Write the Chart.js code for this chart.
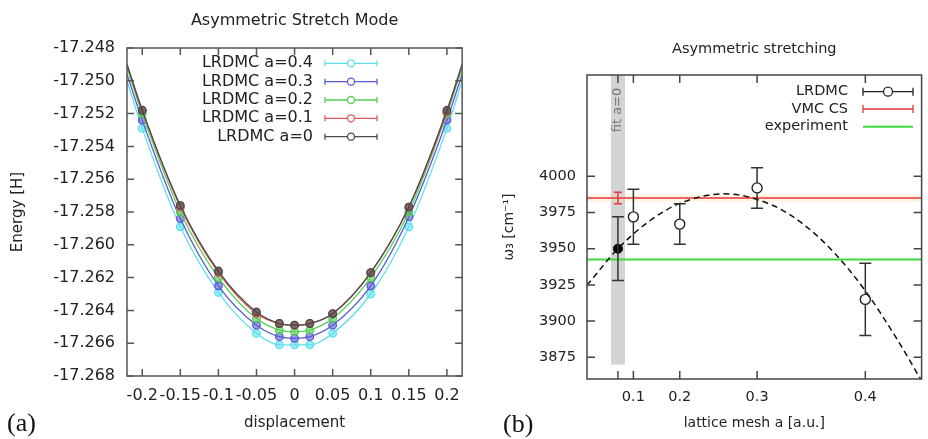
<!DOCTYPE html>
<html>
<head>
<meta charset="utf-8">
<script src="https://cdn.jsdelivr.net/npm/chart.js@4/dist/chart.umd.min.js"></script>
<style>
  body { margin: 0; background: #fff; }
  #stretchChart { position: absolute; left: 0; top: 0; }
  #latticeChart { position: absolute; left: 470px; top: 0; }
</style>
</head>
<body>
<canvas id="stretchChart" width="470" height="439"></canvas>
<canvas id="latticeChart" width="458" height="439"></canvas>
<script>
// ---- panel (a): energy vs displacement ----
var displacement = [-0.2, -0.15, -0.1, -0.05, -0.02, 0, 0.02, 0.05, 0.1, 0.15, 0.2];
var energyA0  = [-17.2518, -17.2576, -17.2616, -17.2641, -17.2648, -17.2649, -17.2648, -17.2642, -17.2617, -17.2577, -17.2518];
var energyA01 = [-17.2518, -17.2577, -17.2617, -17.2642, -17.2648, -17.2649, -17.2648, -17.2642, -17.2617, -17.2577, -17.2519];
var energyA02 = [-17.2520, -17.2580, -17.2620, -17.2645, -17.2652, -17.2653, -17.2652, -17.2645, -17.2620, -17.2580, -17.2520];
var energyA03 = [-17.2524, -17.2584, -17.2625, -17.2649, -17.2656, -17.2657, -17.2656, -17.2649, -17.2625, -17.2583, -17.2524];
var energyA04 = [-17.2529, -17.2589, -17.2629, -17.2654, -17.2661, -17.2661, -17.2661, -17.2654, -17.2630, -17.2589, -17.2529];
// fitted curves where they leave the plot frame
var fitEdgeX = [-0.22, 0.22];
var edgeA0  = [-17.2490, -17.2490];
var edgeA01 = [-17.2490, -17.2490];
var edgeA02 = [-17.2492, -17.2492];
var edgeA03 = [-17.2496, -17.2496];
var edgeA04 = [-17.2500, -17.2500];
var energyTicks = [-17.268, -17.266, -17.264, -17.262, -17.260, -17.258, -17.256, -17.254, -17.252, -17.250, -17.248];
var displacementTicks = [-0.2, -0.15, -0.1, -0.05, 0, 0.05, 0.1, 0.15, 0.2];

// ---- panel (b): omega_3 vs lattice mesh (x axis is linear in a^2) ----
var latticeA = [0.1, 0.2, 0.3, 0.4];
var omegaLRDMC = [3972, 3967, 3992, 3915];
var errLRDMC = [19, 14, 14, 25];
var omegaFitA0 = 3950;
var errFitA0 = 22;
var omegaVMC = 3985;
var errVMC = 4;
var omegaExperiment = 3942.5;
var fitCurveA2 = [-0.02, 0, 0.02, 0.04, 0.0687, 0.10, 0.12, 0.14, 0.16, 0.18, 0.196];
var fitCurveOmega = [3924.7, 3950.0, 3968.8, 3981.3, 3987.9, 3980.0, 3966.8, 3947.1, 3920.9, 3888.4, 3859.5];
var latticeTickA = [0, 0.1, 0.2, 0.3, 0.4];
var latticeTickLabels = ['', '0.1', '0.2', '0.3', '0.4'];
var omegaTicks = [3875, 3900, 3925, 3950, 3975, 4000];

var FONT = "'DejaVu Sans', sans-serif";
var TEXT = '#222';

// gnuplot-like border with inward ticks on all four sides
var framePlugin = {
    id: 'frame',
    afterDatasetsDraw: function(chart, args, opts) {
        var a = chart.chartArea;
        var ctx = chart.ctx;
        var len = opts.tickLen || 7;
        ctx.save();
        ctx.strokeStyle = opts.color || '#444';
        ctx.lineWidth = 1.5;
        ctx.strokeRect(a.left, a.top, a.right - a.left, a.bottom - a.top);
        ctx.beginPath();
        chart.scales.x.ticks.forEach(function(t) {
            var px = chart.scales.x.getPixelForValue(t.value);
            ctx.moveTo(px, a.bottom); ctx.lineTo(px, a.bottom - len);
            ctx.moveTo(px, a.top); ctx.lineTo(px, a.top + len);
        });
        chart.scales.y.ticks.forEach(function(t) {
            var py = chart.scales.y.getPixelForValue(t.value);
            ctx.moveTo(a.left, py); ctx.lineTo(a.left + len, py);
            ctx.moveTo(a.right, py); ctx.lineTo(a.right - len, py);
        });
        ctx.stroke();
        ctx.restore();
    }
};

// vertical error bars from dataset.errors
var errorBarPlugin = {
    id: 'errorBars',
    afterDatasetsDraw: function(chart) {
        var ctx = chart.ctx;
        var yScale = chart.scales.y;
        chart.data.datasets.forEach(function(ds, i) {
            if (!ds.errors) return;
            var meta = chart.getDatasetMeta(i);
            meta.data.forEach(function(pt, j) {
                var v = ds.data[j].y;
                var top = yScale.getPixelForValue(v + ds.errors[j]);
                var bottom = yScale.getPixelForValue(v - ds.errors[j]);
                var cap = ds.capWidth || 6;
                var gap = ds.hollow ? (ds.pointRadius || 0) : 0;
                ctx.save();
                ctx.strokeStyle = ds.errorColor;
                ctx.lineWidth = 1.5;
                ctx.beginPath();
                ctx.moveTo(pt.x, top); ctx.lineTo(pt.x, pt.y - gap);
                ctx.moveTo(pt.x, pt.y + gap); ctx.lineTo(pt.x, bottom);
                ctx.moveTo(pt.x - cap, top); ctx.lineTo(pt.x + cap, top);
                ctx.moveTo(pt.x - cap, bottom); ctx.lineTo(pt.x + cap, bottom);
                ctx.stroke();
                ctx.restore();
            });
        });
    }
};

// key with text on the left and the line sample on the right
var sampleLegendPlugin = {
    id: 'sampleLegend',
    afterDraw: function(chart, args, opts) {
        var ctx = chart.ctx;
        ctx.save();
        ctx.font = opts.fontSize + 'px ' + FONT;
        ctx.textAlign = 'right';
        ctx.textBaseline = 'middle';
        opts.entries.forEach(function(e, i) {
            var y = opts.rowY[i];
            ctx.fillStyle = TEXT;
            ctx.fillText(e.label, opts.textRight, y);
            ctx.strokeStyle = e.color;
            ctx.lineWidth = e.lineWidth || 1.3;
            ctx.beginPath();
            ctx.moveTo(opts.sampleLeft, y); ctx.lineTo(opts.sampleRight, y);
            if (e.caps) {
                ctx.moveTo(opts.sampleLeft, y - opts.capHeight); ctx.lineTo(opts.sampleLeft, y + opts.capHeight);
                ctx.moveTo(opts.sampleRight, y - opts.capHeight); ctx.lineTo(opts.sampleRight, y + opts.capHeight);
            }
            ctx.stroke();
            if (e.marker) {
                var cx = (opts.sampleLeft + opts.sampleRight) / 2;
                ctx.beginPath();
                ctx.arc(cx, y, opts.markerRadius, 0, Math.PI * 2);
                ctx.fillStyle = '#fff';
                ctx.fill();
                ctx.stroke();
            }
        });
        ctx.restore();
    }
};

// panel letter (a)/(b)
var panelLabelPlugin = {
    id: 'panelLabel',
    afterDraw: function(chart, args, opts) {
        var ctx = chart.ctx;
        ctx.save();
        ctx.font = "26px 'Liberation Serif', serif";
        ctx.fillStyle = '#111';
        ctx.textBaseline = 'middle';
        ctx.fillText(opts.text, opts.x, opts.y);
        ctx.restore();
    }
};

// grey band marking the a=0 extrapolation
var fitBandPlugin = {
    id: 'fitBand',
    beforeDatasetsDraw: function(chart, args, opts) {
        var ctx = chart.ctx;
        var x = chart.scales.x, y = chart.scales.y;
        var left = x.getPixelForValue(opts.from);
        var right = x.getPixelForValue(opts.to);
        var top = chart.chartArea.top;
        var bottom = y.getPixelForValue(opts.bottom);
        ctx.save();
        ctx.fillStyle = '#d4d4d4';
        ctx.fillRect(left, top, right - left, bottom - top);
        // faint halo around the VMC line
        var vTop = y.getPixelForValue(opts.haloValue + opts.haloHalf);
        var vBottom = y.getPixelForValue(opts.haloValue - opts.haloHalf);
        ctx.fillStyle = 'rgba(255, 214, 160, 0.3)';
        ctx.fillRect(chart.chartArea.left, vTop, chart.chartArea.right - chart.chartArea.left, vBottom - vTop);
        ctx.translate((left + right) / 2, top + 35);
        ctx.rotate(-Math.PI / 2);
        ctx.font = '13px ' + FONT;
        ctx.fillStyle = '#777';
        ctx.textAlign = 'center';
        ctx.textBaseline = 'middle';
        ctx.fillText(opts.text, 0, 0);
        ctx.restore();
    }
};

function toPoints(xs, ys) {
    return xs.map(function(x, i) { return { x: x, y: ys[i] }; });
}

function fadeColor(hex, alpha) {
    var r = parseInt(hex.slice(1, 3), 16), g = parseInt(hex.slice(3, 5), 16), b = parseInt(hex.slice(5, 7), 16);
    return 'rgba(' + r + ',' + g + ',' + b + ',' + alpha + ')';
}

// ---------- chart (a) ----------
var stretchSeries = [
    { label: 'LRDMC a=0',   values: energyA0,  edge: edgeA0,  color: '#4a4a4a' },
    { label: 'LRDMC a=0.1', values: energyA01, edge: edgeA01, color: '#e05a5a' },
    { label: 'LRDMC a=0.2', values: energyA02, edge: edgeA02, color: '#55d055' },
    { label: 'LRDMC a=0.3', values: energyA03, edge: edgeA03, color: '#5a5ad6' },
    { label: 'LRDMC a=0.4', values: energyA04, edge: edgeA04, color: '#5fe0ee' }
];

var stretchDatasets = stretchSeries.map(function(s) {
    var pts = [{ x: fitEdgeX[0], y: s.edge[0] }].concat(toPoints(displacement, s.values), [{ x: fitEdgeX[1], y: s.edge[1] }]);
    var last = pts.length - 1;
    return {
        label: s.label,
        data: pts,
        borderColor: s.color,
        borderWidth: 1.3,
        cubicInterpolationMode: 'monotone',
        pointRadius: function(c) { return (c.dataIndex === 0 || c.dataIndex === last) ? 0 : 3.8; },
        pointBorderColor: s.color,
        pointBackgroundColor: fadeColor(s.color, 0.6),
        pointBorderWidth: 1.3
    };
});

var ctxStretch = document.getElementById('stretchChart');
new Chart(ctxStretch, {
    type: 'line',
    data: { datasets: stretchDatasets },
    plugins: [framePlugin, sampleLegendPlugin, panelLabelPlugin],
    options: {
        responsive: false,
        animation: false,
        layout: { padding: 0 },
        scales: {
            x: {
                type: 'linear',
                min: -0.22,
                max: 0.22,
                afterBuildTicks: function(scale) {
                    scale.ticks = displacementTicks.map(function(v) { return { value: v }; });
                },
                afterFit: function(scale) { scale.height = 63; },
                grid: { display: false, drawTicks: false },
                border: { display: false },
                ticks: {
                    autoSkip: false,
                    maxRotation: 0,
                    padding: 10,
                    color: TEXT,
                    font: { family: FONT, size: 16 },
                    callback: function(v) { return String(Math.round(v * 100) / 100); }
                },
                title: {
                    display: true,
                    text: 'displacement',
                    color: TEXT,
                    font: { family: FONT, size: 15 },
                    padding: { top: 0, bottom: 7 }
                }
            },
            y: {
                min: -17.268,
                max: -17.248,
                afterBuildTicks: function(scale) {
                    scale.ticks = energyTicks.map(function(v) { return { value: v }; });
                },
                afterFit: function(scale) { scale.width = 127; },
                grid: { display: false, drawTicks: false },
                border: { display: false },
                ticks: {
                    padding: 12,
                    color: TEXT,
                    font: { family: FONT, size: 16 },
                    callback: function(v) { return v.toFixed(3); }
                },
                title: {
                    display: true,
                    text: 'Energy [H]',
                    color: TEXT,
                    font: { family: FONT, size: 15 },
                    padding: { top: 9, bottom: 0 }
                }
            }
        },
        plugins: {
            legend: { display: false },
            tooltip: { enabled: false },
            title: {
                display: true,
                fullSize: false,
                text: 'Asymmetric Stretch Mode',
                color: TEXT,
                font: { family: FONT, size: 16, weight: 'normal' },
                padding: { top: 11.4, bottom: 17.4 }
            },
            frame: { color: '#555', tickLen: 7 },
            sampleLegend: {
                entries: stretchSeries.slice().reverse().map(function(s) {
                    return { label: s.label, color: s.color, caps: true, marker: true };
                }),
                fontSize: 16,
                textRight: 313,
                sampleLeft: 325,
                sampleRight: 377,
                capHeight: 3,
                markerRadius: 3.5,
                rowY: [63.3, 81.7, 100, 118.3, 136.7]
            },
            panelLabel: { text: '(a)', x: 7, y: 424 }
        }
    }
});

// ---------- chart (b) ----------
var aSquared = latticeA.map(function(a) { return a * a; });
var xMinB = -0.02, xMaxB = 0.1964;

var ctxLattice = document.getElementById('latticeChart');
new Chart(ctxLattice, {
    type: 'line',
    data: {
        datasets: [
            {
                label: 'LRDMC',
                data: toPoints(aSquared, omegaLRDMC),
                showLine: false,
                pointRadius: 5,
                pointBorderColor: '#222',
                pointBackgroundColor: 'rgba(0,0,0,0)',
                pointBorderWidth: 1.4,
                errors: errLRDMC,
                errorColor: '#333',
                capWidth: 6,
                hollow: true
            },
            {
                label: 'fit a=0',
                data: [{ x: 0, y: omegaFitA0 }],
                showLine: false,
                pointRadius: 4.5,
                pointBorderColor: '#000',
                pointBackgroundColor: '#000',
                errors: [errFitA0],
                errorColor: '#333',
                capWidth: 6
            },
            {
                label: 'VMC CS error',
                data: [{ x: 0, y: omegaVMC }],
                showLine: false,
                pointRadius: 0,
                errors: [errVMC],
                errorColor: '#e8343c',
                capWidth: 4
            },
            {
                label: 'fit',
                data: toPoints(fitCurveA2, fitCurveOmega),
                borderColor: '#111',
                borderWidth: 1.5,
                borderDash: [6, 4],
                pointRadius: 0,
                cubicInterpolationMode: 'monotone'
            },
            {
                label: 'VMC CS',
                data: [{ x: xMinB, y: omegaVMC }, { x: xMaxB, y: omegaVMC }],
                borderColor: '#e8343c',
                borderWidth: 1.5,
                pointRadius: 0
            },
            {
                label: 'experiment',
                data: [{ x: xMinB, y: omegaExperiment }, { x: xMaxB, y: omegaExperiment }],
                borderColor: '#3fd93f',
                borderWidth: 2,
                pointRadius: 0
            }
        ]
    },
    plugins: [fitBandPlugin, framePlugin, errorBarPlugin, sampleLegendPlugin, panelLabelPlugin],
    options: {
        responsive: false,
        animation: false,
        layout: { padding: 0 },
        scales: {
            x: {
                type: 'linear',
                min: xMinB,
                max: xMaxB,
                afterBuildTicks: function(scale) {
                    scale.ticks = latticeTickA.map(function(a) { return { value: a * a }; });
                },
                afterFit: function(scale) { scale.height = 60; },
                grid: { display: false, drawTicks: false },
                border: { display: false },
                ticks: {
                    autoSkip: false,
                    maxRotation: 0,
                    padding: 10,
                    color: TEXT,
                    font: { family: FONT, size: 14.5 },
                    callback: function(v, i) { return latticeTickLabels[i]; }
                },
                title: {
                    display: true,
                    text: 'lattice mesh a [a.u.]',
                    color: TEXT,
                    font: { family: FONT, size: 14 },
                    padding: { top: 0, bottom: 7.6 }
                }
            },
            y: {
                min: 3860,
                max: 4070,
                afterBuildTicks: function(scale) {
                    scale.ticks = omegaTicks.map(function(v) { return { value: v }; });
                },
                afterFit: function(scale) { scale.width = 117; },
                grid: { display: false, drawTicks: false },
                border: { display: false },
                ticks: {
                    padding: 11,
                    color: TEXT,
                    font: { family: FONT, size: 14.5 },
                    callback: function(v) { return String(v); }
                },
                title: {
                    display: true,
                    text: 'ω₃ [cm⁻¹]',
                    color: TEXT,
                    font: { family: FONT, size: 14 },
                    padding: { top: 30.6, bottom: 0 }
                }
            }
        },
        plugins: {
            legend: { display: false },
            tooltip: { enabled: false },
            title: {
                display: true,
                fullSize: false,
                text: 'Asymmetric stretching',
                color: TEXT,
                font: { family: FONT, size: 14.5, weight: 'normal' },
                padding: { top: 40.3, bottom: 17.3 }
            },
            frame: { color: '#444', tickLen: 8 },
            fitBand: { from: -0.0045, to: 0.0046, bottom: 3870, text: 'fit a=0', haloValue: omegaVMC, haloHalf: 2.5 },
            sampleLegend: {
                entries: [
                    { label: 'LRDMC', color: '#222', caps: true, marker: true },
                    { label: 'VMC CS', color: '#e8343c', caps: true },
                    { label: 'experiment', color: '#3fd93f', lineWidth: 2 }
                ],
                fontSize: 14.5,
                textRight: 378,
                sampleLeft: 393,
                sampleRight: 443,
                capHeight: 4,
                markerRadius: 4.5,
                rowY: [91.7, 109, 126.7]
            },
            panelLabel: { text: '(b)', x: 33, y: 425 }
        }
    }
});
</script>
</body>
</html>
